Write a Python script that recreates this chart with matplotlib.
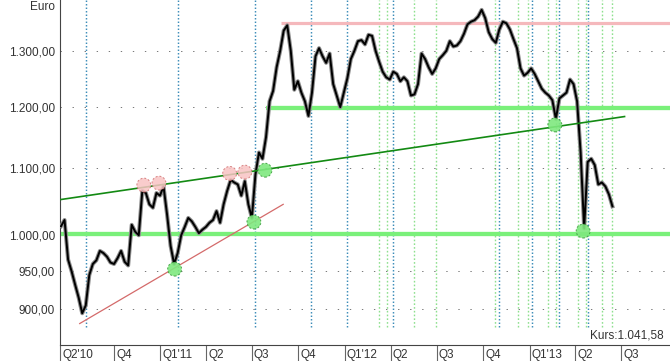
import numpy as np
import pandas as pd
import matplotlib
matplotlib.use("Agg")
import matplotlib.pyplot as plt
import matplotlib.dates as mdates

plt.rcParams['font.family'] = ['Liberation Sans', 'DejaVu Sans']

dates = pd.date_range('2010-06-18', periods=157, freq='W-FRI')
prices = [
    1013, 1022, 966, 950, 932, 915, 895, 905, 945, 960,
    965, 978, 975, 970, 962, 960, 968, 978, 963, 958,
    1015, 1005, 1000, 1065, 1062, 1045, 1040, 1062, 1058, 1072,
    1030, 985, 960, 975, 1000, 1012, 1025, 1020, 1012, 1003,
    1008, 1012, 1018, 1022, 1035, 1018, 1045, 1065, 1082, 1078,
    1075, 1058, 1080, 1045, 1025, 1090, 1125, 1115, 1150, 1210,
    1228, 1270, 1300, 1338, 1348, 1300, 1230, 1245, 1225, 1210,
    1185, 1225, 1290, 1305, 1290, 1278, 1295, 1240, 1220, 1200,
    1225, 1250, 1285, 1300, 1318, 1320, 1312, 1330, 1328, 1300,
    1280, 1262, 1252, 1248, 1262, 1258, 1245, 1252, 1245, 1220,
    1222, 1240, 1295, 1285, 1270, 1258, 1268, 1285, 1292, 1300,
    1318, 1308, 1310, 1318, 1332, 1350, 1355, 1358, 1365, 1378,
    1362, 1335, 1322, 1315, 1340, 1355, 1352, 1340, 1322, 1305,
    1268, 1255, 1260, 1268, 1258, 1245, 1232, 1225, 1220, 1212,
    1180, 1215, 1220, 1225, 1248, 1240, 1210, 1125, 1010, 1110,
    1115, 1105, 1075, 1078, 1072, 1060, 1042]

# Markierungen
blue_events = ['2010-08-06', '2011-02-04', '2011-07-07', '2011-10-27', '2012-01-05',
               '2012-04-05', '2012-11-02', '2013-01-05', '2013-03-01', '2013-04-27']
green_events = ['2012-03-09', '2012-03-24', '2012-05-18', '2012-06-29', '2012-10-25',
                '2012-12-08', '2012-12-29', '2013-02-07', '2013-02-23', '2013-04-06',
                '2013-04-22', '2013-05-25', '2013-06-14']

support_1200 = ('2011-07-29', 1198)
support_1000 = ('2010-06-16', 1002)
resist_1350 = ('2011-08-27', 1353)

trend_green = (['2010-06-16', '2013-07-08'], [1052, 1184])
trend_red = (['2010-07-25', '2011-09-01'], [882, 1045])

green_dots_d = ['2011-01-29', '2011-07-05', '2011-07-27', '2013-02-20', '2013-04-17']
green_dots_p = [953, 1019, 1097, 1170, 1006]
pink_dots_d = ['2010-11-29', '2010-12-29', '2011-05-18', '2011-06-17']
pink_dots_p = [1074, 1077, 1092, 1094]

yticks = [900, 950, 1000, 1100, 1200, 1300]
ylabels = ['900,00', '950,00', '1.000,00', '1.100,00', '1.200,00', '1.300,00']

qticks = ['2010-06-16', '2010-10-01', '2011-01-01', '2011-04-01', '2011-07-01', '2011-10-01',
          '2012-01-01', '2012-04-01', '2012-07-01', '2012-10-01', '2013-01-01',
          '2013-04-01', '2013-07-01']
qlabels = ["Q2'10", "Q4", "Q1'11", "Q2", "Q3", "Q4", "Q1'12", "Q2", "Q3", "Q4",
           "Q1'13", "Q2", "Q3"]

txt = '#333333'
fig = plt.figure(figsize=(6.7, 3.61), dpi=100)
ax = fig.add_axes([60 / 670, 16 / 361, 610 / 670, 345 / 361])

ax.set_yscale('log')
ax.set_ylim(855.5, 1397.5)
x0 = pd.Timestamp('2010-06-16')
x1 = pd.Timestamp('2013-10-06')
ax.set_xlim(x0, x1)

# Gitter
ax.set_yticks(yticks)
ax.set_yticklabels(ylabels)
ax.yaxis.set_minor_locator(matplotlib.ticker.NullLocator())
ax.yaxis.grid(True, color='#777777', linestyle=(0, (1.4, 11)), linewidth=0.7)
ax.tick_params(axis='y', length=0, pad=3.6, labelsize=8.5, labelcolor=txt)

# vertikale Ereignislinien
ax.vlines(pd.to_datetime(blue_events), 878, 1397.5, color='#3b8cb8',
          linestyle=(0, (1, 1.4)), linewidth=1.05, zorder=1)
ax.vlines(pd.to_datetime(green_events), 878, 1397.5, color='#8ee08e',
          linestyle=(0, (1.2, 1.5)), linewidth=1.0, zorder=1)

# Horizontale Linien
ax.hlines(support_1200[1], pd.Timestamp(support_1200[0]), x1, color='#7af07a', linewidth=3.1, zorder=2)
ax.hlines(support_1000[1], pd.Timestamp(support_1000[0]), x1, color='#7af07a', linewidth=3.1, zorder=2)
ax.hlines(resist_1350[1], pd.Timestamp(resist_1350[0]), x1, color='#f5b8bc', linewidth=2.3, zorder=2)

# Kurs
ax.plot(dates, prices, color='#8c8c8c', linewidth=2.9, zorder=3)
ax.plot(dates, prices, color='black', linewidth=1.4, zorder=4)

# Trendlinien
ax.plot(pd.to_datetime(trend_green[0]), trend_green[1], color='#138a13', linewidth=1.2, zorder=5)
ax.plot(pd.to_datetime(trend_red[0]), trend_red[1], color='#d46a6a', linewidth=0.9, zorder=5)

# Markierungen
ax.scatter(pd.to_datetime(green_dots_d), green_dots_p, s=100, facecolor='#7fe87f',
           edgecolor='#3c9a3c', linewidths=0.7, linestyle=(0, (2, 2)), alpha=0.9, zorder=6)
ax.scatter(pd.to_datetime(pink_dots_d), pink_dots_p, s=100, facecolor='#f8c4c4',
           edgecolor='#d07070', linewidths=0.7, linestyle=(0, (2, 2)), alpha=0.85, zorder=6)

# Achsen
for s in ['top', 'right']:
    ax.spines[s].set_visible(False)
ax.spines['left'].set_color('#444444')
ax.spines['bottom'].set_color('#444444')
ax.set_xticks(pd.to_datetime(qticks))
ax.tick_params(axis='x', length=11.5, width=0.8, color='#666666', labelbottom=False)
for d, lab in zip(pd.to_datetime(qticks), qlabels):
    ax.annotate(lab, xy=(d, 0), xycoords=('data', 'axes fraction'), xytext=(1.5, -7.3),
                textcoords='offset points', ha='left', va='center', fontsize=8.5, color=txt,
                annotation_clip=False)

fig.text(55 / 670, 1 - 7 / 361, 'Euro', ha='right', va='center', fontsize=8.5, color=txt)
fig.text(664 / 670, 1 - 336 / 361, 'Kurs:1.041,58', ha='right', va='center', fontsize=8.5, color=txt)

fig.savefig('out.png', dpi=100)
